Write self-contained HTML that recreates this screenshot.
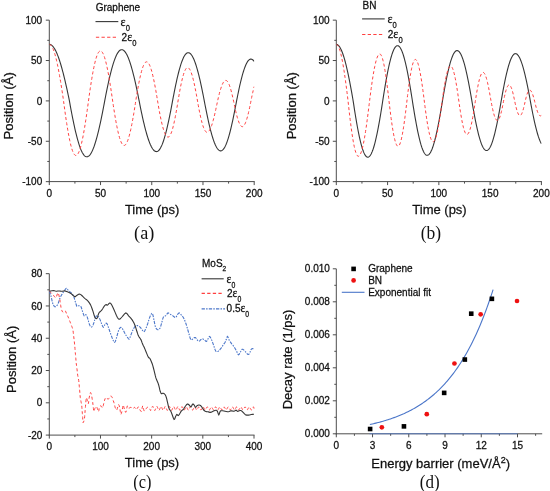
<!DOCTYPE html>
<html><head><meta charset="utf-8"><title>Figure</title>
<style>
html,body{margin:0;padding:0;background:#fff;}
body{width:550px;height:491px;overflow:hidden;font-family:"Liberation Sans", sans-serif;}
svg{display:block;will-change:transform;filter:blur(0.25px);}
text{fill:#111;stroke:#111;stroke-width:0.26px;}
</style></head><body>
<svg width="550" height="491" viewBox="0 0 550 491">
<defs><clipPath id="ca"><rect x="49.3" y="0" width="205" height="181"/></clipPath><clipPath id="cb"><rect x="336.3" y="0" width="205.2" height="181"/></clipPath></defs>
<rect width="550" height="491" fill="#fff"/>
<line x1="49.3" y1="20.2" x2="49.3" y2="182.1" stroke="#4d4d4d" stroke-width="1" />
<line x1="48.8" y1="181.6" x2="254.7" y2="181.6" stroke="#4d4d4d" stroke-width="1" />
<line x1="45.8" y1="181.65" x2="49.3" y2="181.65" stroke="#4d4d4d" stroke-width="1" />
<line x1="45.8" y1="141.28" x2="49.3" y2="141.28" stroke="#4d4d4d" stroke-width="1" />
<line x1="45.8" y1="100.9" x2="49.3" y2="100.9" stroke="#4d4d4d" stroke-width="1" />
<line x1="45.8" y1="60.53" x2="49.3" y2="60.53" stroke="#4d4d4d" stroke-width="1" />
<line x1="45.8" y1="20.15" x2="49.3" y2="20.15" stroke="#4d4d4d" stroke-width="1" />
<line x1="47.3" y1="161.46" x2="49.3" y2="161.46" stroke="#4d4d4d" stroke-width="1" />
<line x1="47.3" y1="121.09" x2="49.3" y2="121.09" stroke="#4d4d4d" stroke-width="1" />
<line x1="47.3" y1="80.71" x2="49.3" y2="80.71" stroke="#4d4d4d" stroke-width="1" />
<line x1="47.3" y1="40.34" x2="49.3" y2="40.34" stroke="#4d4d4d" stroke-width="1" />
<line x1="49.3" y1="181.6" x2="49.3" y2="185.1" stroke="#4d4d4d" stroke-width="1" />
<line x1="100.53" y1="181.6" x2="100.53" y2="185.1" stroke="#4d4d4d" stroke-width="1" />
<line x1="151.75" y1="181.6" x2="151.75" y2="185.1" stroke="#4d4d4d" stroke-width="1" />
<line x1="202.97" y1="181.6" x2="202.97" y2="185.1" stroke="#4d4d4d" stroke-width="1" />
<line x1="254.2" y1="181.6" x2="254.2" y2="185.1" stroke="#4d4d4d" stroke-width="1" />
<line x1="74.91" y1="181.6" x2="74.91" y2="183.6" stroke="#4d4d4d" stroke-width="1" />
<line x1="126.14" y1="181.6" x2="126.14" y2="183.6" stroke="#4d4d4d" stroke-width="1" />
<line x1="177.36" y1="181.6" x2="177.36" y2="183.6" stroke="#4d4d4d" stroke-width="1" />
<line x1="228.59" y1="181.6" x2="228.59" y2="183.6" stroke="#4d4d4d" stroke-width="1" />
<text x="42.2" y="185.25" font-size="10" text-anchor="end" font-family='"Liberation Sans", sans-serif' >-100</text>
<text x="42.2" y="144.88" font-size="10" text-anchor="end" font-family='"Liberation Sans", sans-serif' >-50</text>
<text x="42.2" y="104.5" font-size="10" text-anchor="end" font-family='"Liberation Sans", sans-serif' >0</text>
<text x="42.2" y="64.12" font-size="10" text-anchor="end" font-family='"Liberation Sans", sans-serif' >50</text>
<text x="42.2" y="23.75" font-size="10" text-anchor="end" font-family='"Liberation Sans", sans-serif' >100</text>
<text x="49.3" y="196.8" font-size="10" text-anchor="middle" font-family='"Liberation Sans", sans-serif' >0</text>
<text x="100.53" y="196.8" font-size="10" text-anchor="middle" font-family='"Liberation Sans", sans-serif' >50</text>
<text x="151.75" y="196.8" font-size="10" text-anchor="middle" font-family='"Liberation Sans", sans-serif' >100</text>
<text x="202.97" y="196.8" font-size="10" text-anchor="middle" font-family='"Liberation Sans", sans-serif' >150</text>
<text x="254.2" y="196.8" font-size="10" text-anchor="middle" font-family='"Liberation Sans", sans-serif' >200</text>
<line x1="336.3" y1="20.2" x2="336.3" y2="182.1" stroke="#4d4d4d" stroke-width="1" />
<line x1="335.8" y1="181.6" x2="541.9" y2="181.6" stroke="#4d4d4d" stroke-width="1" />
<line x1="332.8" y1="181.65" x2="336.3" y2="181.65" stroke="#4d4d4d" stroke-width="1" />
<line x1="332.8" y1="141.28" x2="336.3" y2="141.28" stroke="#4d4d4d" stroke-width="1" />
<line x1="332.8" y1="100.9" x2="336.3" y2="100.9" stroke="#4d4d4d" stroke-width="1" />
<line x1="332.8" y1="60.53" x2="336.3" y2="60.53" stroke="#4d4d4d" stroke-width="1" />
<line x1="332.8" y1="20.15" x2="336.3" y2="20.15" stroke="#4d4d4d" stroke-width="1" />
<line x1="334.3" y1="161.46" x2="336.3" y2="161.46" stroke="#4d4d4d" stroke-width="1" />
<line x1="334.3" y1="121.09" x2="336.3" y2="121.09" stroke="#4d4d4d" stroke-width="1" />
<line x1="334.3" y1="80.71" x2="336.3" y2="80.71" stroke="#4d4d4d" stroke-width="1" />
<line x1="334.3" y1="40.34" x2="336.3" y2="40.34" stroke="#4d4d4d" stroke-width="1" />
<line x1="336.3" y1="181.6" x2="336.3" y2="185.1" stroke="#4d4d4d" stroke-width="1" />
<line x1="387.58" y1="181.6" x2="387.58" y2="185.1" stroke="#4d4d4d" stroke-width="1" />
<line x1="438.85" y1="181.6" x2="438.85" y2="185.1" stroke="#4d4d4d" stroke-width="1" />
<line x1="490.12" y1="181.6" x2="490.12" y2="185.1" stroke="#4d4d4d" stroke-width="1" />
<line x1="541.4" y1="181.6" x2="541.4" y2="185.1" stroke="#4d4d4d" stroke-width="1" />
<line x1="361.94" y1="181.6" x2="361.94" y2="183.6" stroke="#4d4d4d" stroke-width="1" />
<line x1="413.21" y1="181.6" x2="413.21" y2="183.6" stroke="#4d4d4d" stroke-width="1" />
<line x1="464.49" y1="181.6" x2="464.49" y2="183.6" stroke="#4d4d4d" stroke-width="1" />
<line x1="515.76" y1="181.6" x2="515.76" y2="183.6" stroke="#4d4d4d" stroke-width="1" />
<text x="329.6" y="185.25" font-size="10" text-anchor="end" font-family='"Liberation Sans", sans-serif' >-100</text>
<text x="329.6" y="144.88" font-size="10" text-anchor="end" font-family='"Liberation Sans", sans-serif' >-50</text>
<text x="329.6" y="104.5" font-size="10" text-anchor="end" font-family='"Liberation Sans", sans-serif' >0</text>
<text x="329.6" y="64.12" font-size="10" text-anchor="end" font-family='"Liberation Sans", sans-serif' >50</text>
<text x="329.6" y="23.75" font-size="10" text-anchor="end" font-family='"Liberation Sans", sans-serif' >100</text>
<text x="336.3" y="196.8" font-size="10" text-anchor="middle" font-family='"Liberation Sans", sans-serif' >0</text>
<text x="387.58" y="196.8" font-size="10" text-anchor="middle" font-family='"Liberation Sans", sans-serif' >50</text>
<text x="438.85" y="196.8" font-size="10" text-anchor="middle" font-family='"Liberation Sans", sans-serif' >100</text>
<text x="490.12" y="196.8" font-size="10" text-anchor="middle" font-family='"Liberation Sans", sans-serif' >150</text>
<text x="541.4" y="196.8" font-size="10" text-anchor="middle" font-family='"Liberation Sans", sans-serif' >200</text>
<line x1="49.3" y1="273.7" x2="49.3" y2="435.6" stroke="#4d4d4d" stroke-width="1" />
<line x1="48.8" y1="435.1" x2="254.5" y2="435.1" stroke="#4d4d4d" stroke-width="1" />
<line x1="45.8" y1="435.08" x2="49.3" y2="435.08" stroke="#4d4d4d" stroke-width="1" />
<line x1="45.8" y1="402.8" x2="49.3" y2="402.8" stroke="#4d4d4d" stroke-width="1" />
<line x1="45.8" y1="370.52" x2="49.3" y2="370.52" stroke="#4d4d4d" stroke-width="1" />
<line x1="45.8" y1="338.24" x2="49.3" y2="338.24" stroke="#4d4d4d" stroke-width="1" />
<line x1="45.8" y1="305.96" x2="49.3" y2="305.96" stroke="#4d4d4d" stroke-width="1" />
<line x1="45.8" y1="273.68" x2="49.3" y2="273.68" stroke="#4d4d4d" stroke-width="1" />
<line x1="47.3" y1="418.94" x2="49.3" y2="418.94" stroke="#4d4d4d" stroke-width="1" />
<line x1="47.3" y1="386.66" x2="49.3" y2="386.66" stroke="#4d4d4d" stroke-width="1" />
<line x1="47.3" y1="354.38" x2="49.3" y2="354.38" stroke="#4d4d4d" stroke-width="1" />
<line x1="47.3" y1="322.1" x2="49.3" y2="322.1" stroke="#4d4d4d" stroke-width="1" />
<line x1="47.3" y1="289.82" x2="49.3" y2="289.82" stroke="#4d4d4d" stroke-width="1" />
<line x1="49.3" y1="435.1" x2="49.3" y2="438.6" stroke="#4d4d4d" stroke-width="1" />
<line x1="100.47" y1="435.1" x2="100.47" y2="438.6" stroke="#4d4d4d" stroke-width="1" />
<line x1="151.65" y1="435.1" x2="151.65" y2="438.6" stroke="#4d4d4d" stroke-width="1" />
<line x1="202.82" y1="435.1" x2="202.82" y2="438.6" stroke="#4d4d4d" stroke-width="1" />
<line x1="254" y1="435.1" x2="254" y2="438.6" stroke="#4d4d4d" stroke-width="1" />
<line x1="74.89" y1="435.1" x2="74.89" y2="437.1" stroke="#4d4d4d" stroke-width="1" />
<line x1="126.06" y1="435.1" x2="126.06" y2="437.1" stroke="#4d4d4d" stroke-width="1" />
<line x1="177.24" y1="435.1" x2="177.24" y2="437.1" stroke="#4d4d4d" stroke-width="1" />
<line x1="228.41" y1="435.1" x2="228.41" y2="437.1" stroke="#4d4d4d" stroke-width="1" />
<text x="42.4" y="438.68" font-size="10" text-anchor="end" font-family='"Liberation Sans", sans-serif' >-20</text>
<text x="42.4" y="406.4" font-size="10" text-anchor="end" font-family='"Liberation Sans", sans-serif' >0</text>
<text x="42.4" y="374.12" font-size="10" text-anchor="end" font-family='"Liberation Sans", sans-serif' >20</text>
<text x="42.4" y="341.84" font-size="10" text-anchor="end" font-family='"Liberation Sans", sans-serif' >40</text>
<text x="42.4" y="309.56" font-size="10" text-anchor="end" font-family='"Liberation Sans", sans-serif' >60</text>
<text x="42.4" y="277.28" font-size="10" text-anchor="end" font-family='"Liberation Sans", sans-serif' >80</text>
<text x="49.3" y="450.2" font-size="10" text-anchor="middle" font-family='"Liberation Sans", sans-serif' >0</text>
<text x="100.47" y="450.2" font-size="10" text-anchor="middle" font-family='"Liberation Sans", sans-serif' >100</text>
<text x="151.65" y="450.2" font-size="10" text-anchor="middle" font-family='"Liberation Sans", sans-serif' >200</text>
<text x="202.82" y="450.2" font-size="10" text-anchor="middle" font-family='"Liberation Sans", sans-serif' >300</text>
<text x="254" y="450.2" font-size="10" text-anchor="middle" font-family='"Liberation Sans", sans-serif' >400</text>
<line x1="336.3" y1="268.8" x2="336.3" y2="434.3" stroke="#4d4d4d" stroke-width="1" />
<line x1="335.8" y1="433.8" x2="542.2" y2="433.8" stroke="#4d4d4d" stroke-width="1" />
<line x1="332.8" y1="433.8" x2="336.3" y2="433.8" stroke="#4d4d4d" stroke-width="1" />
<line x1="332.8" y1="400.8" x2="336.3" y2="400.8" stroke="#4d4d4d" stroke-width="1" />
<line x1="332.8" y1="367.8" x2="336.3" y2="367.8" stroke="#4d4d4d" stroke-width="1" />
<line x1="332.8" y1="334.8" x2="336.3" y2="334.8" stroke="#4d4d4d" stroke-width="1" />
<line x1="332.8" y1="301.8" x2="336.3" y2="301.8" stroke="#4d4d4d" stroke-width="1" />
<line x1="332.8" y1="268.8" x2="336.3" y2="268.8" stroke="#4d4d4d" stroke-width="1" />
<line x1="334.3" y1="417.3" x2="336.3" y2="417.3" stroke="#4d4d4d" stroke-width="1" />
<line x1="334.3" y1="384.3" x2="336.3" y2="384.3" stroke="#4d4d4d" stroke-width="1" />
<line x1="334.3" y1="351.3" x2="336.3" y2="351.3" stroke="#4d4d4d" stroke-width="1" />
<line x1="334.3" y1="318.3" x2="336.3" y2="318.3" stroke="#4d4d4d" stroke-width="1" />
<line x1="334.3" y1="285.3" x2="336.3" y2="285.3" stroke="#4d4d4d" stroke-width="1" />
<line x1="336.3" y1="433.8" x2="336.3" y2="437.3" stroke="#4d4d4d" stroke-width="1" />
<line x1="372.54" y1="433.8" x2="372.54" y2="437.3" stroke="#4d4d4d" stroke-width="1" />
<line x1="408.78" y1="433.8" x2="408.78" y2="437.3" stroke="#4d4d4d" stroke-width="1" />
<line x1="445.02" y1="433.8" x2="445.02" y2="437.3" stroke="#4d4d4d" stroke-width="1" />
<line x1="481.26" y1="433.8" x2="481.26" y2="437.3" stroke="#4d4d4d" stroke-width="1" />
<line x1="517.5" y1="433.8" x2="517.5" y2="437.3" stroke="#4d4d4d" stroke-width="1" />
<line x1="354.42" y1="433.8" x2="354.42" y2="435.8" stroke="#4d4d4d" stroke-width="1" />
<line x1="390.66" y1="433.8" x2="390.66" y2="435.8" stroke="#4d4d4d" stroke-width="1" />
<line x1="426.9" y1="433.8" x2="426.9" y2="435.8" stroke="#4d4d4d" stroke-width="1" />
<line x1="463.14" y1="433.8" x2="463.14" y2="435.8" stroke="#4d4d4d" stroke-width="1" />
<line x1="499.38" y1="433.8" x2="499.38" y2="435.8" stroke="#4d4d4d" stroke-width="1" />
<line x1="535.62" y1="433.8" x2="535.62" y2="435.8" stroke="#4d4d4d" stroke-width="1" />
<text x="329.9" y="437.4" font-size="10" text-anchor="end" font-family='"Liberation Sans", sans-serif' >0.000</text>
<text x="329.9" y="404.4" font-size="10" text-anchor="end" font-family='"Liberation Sans", sans-serif' >0.002</text>
<text x="329.9" y="371.4" font-size="10" text-anchor="end" font-family='"Liberation Sans", sans-serif' >0.004</text>
<text x="329.9" y="338.4" font-size="10" text-anchor="end" font-family='"Liberation Sans", sans-serif' >0.006</text>
<text x="329.9" y="305.4" font-size="10" text-anchor="end" font-family='"Liberation Sans", sans-serif' >0.008</text>
<text x="329.9" y="272.4" font-size="10" text-anchor="end" font-family='"Liberation Sans", sans-serif' >0.010</text>
<text x="336.3" y="448.8" font-size="10" text-anchor="middle" font-family='"Liberation Sans", sans-serif' >0</text>
<text x="372.54" y="448.8" font-size="10" text-anchor="middle" font-family='"Liberation Sans", sans-serif' >3</text>
<text x="408.78" y="448.8" font-size="10" text-anchor="middle" font-family='"Liberation Sans", sans-serif' >6</text>
<text x="445.02" y="448.8" font-size="10" text-anchor="middle" font-family='"Liberation Sans", sans-serif' >9</text>
<text x="481.26" y="448.8" font-size="10" text-anchor="middle" font-family='"Liberation Sans", sans-serif' >12</text>
<text x="517.5" y="448.8" font-size="10" text-anchor="middle" font-family='"Liberation Sans", sans-serif' >15</text>
<text x="95.7" y="10.7" font-size="10" text-anchor="start" font-family='"Liberation Sans", sans-serif' >Graphene</text>
<line x1="95.5" y1="21.6" x2="118.3" y2="21.6" stroke="#363636" stroke-width="1.1" />
<text x="120.6" y="25.5" font-size="10" font-family='"Liberation Sans", sans-serif'><tspan font-family='"Liberation Serif", serif' font-size="12">&#949;</tspan><tspan font-size="9" dy="5.7" textLength="4.23" lengthAdjust="spacingAndGlyphs">0</tspan></text>
<line x1="95.9" y1="37.3" x2="117.5" y2="37.3" stroke="#ff4040" stroke-width="1.1" stroke-dasharray="3.3 2.3"/>
<text x="121.6" y="40.7" font-size="10" font-family='"Liberation Sans", sans-serif'>2<tspan font-family='"Liberation Serif", serif' font-size="12">&#949;</tspan><tspan font-size="9" dy="5.7" textLength="4.23" lengthAdjust="spacingAndGlyphs">0</tspan></text>
<text x="362.6" y="8.7" font-size="10" text-anchor="start" font-family='"Liberation Sans", sans-serif' >BN</text>
<line x1="362.1" y1="18.9" x2="384.7" y2="18.9" stroke="#363636" stroke-width="1.1" />
<text x="387.5" y="22.5" font-size="10" font-family='"Liberation Sans", sans-serif'><tspan font-family='"Liberation Serif", serif' font-size="12">&#949;</tspan><tspan font-size="9" dy="5.7" textLength="4.23" lengthAdjust="spacingAndGlyphs">0</tspan></text>
<line x1="362.1" y1="34.5" x2="383.5" y2="34.5" stroke="#ff4040" stroke-width="1.1" stroke-dasharray="3.3 2.3"/>
<text x="387.8" y="37.7" font-size="10" font-family='"Liberation Sans", sans-serif'>2<tspan font-family='"Liberation Serif", serif' font-size="12">&#949;</tspan><tspan font-size="9" dy="5.7" textLength="4.23" lengthAdjust="spacingAndGlyphs">0</tspan></text>
<text x="202.0" y="266.8" font-size="10" font-family='"Liberation Sans", sans-serif'>MoS<tspan font-size="6.5" dy="4">2</tspan></text>
<line x1="201.6" y1="278.8" x2="223.7" y2="278.8" stroke="#363636" stroke-width="1.1" />
<text x="226.6" y="282.7" font-size="10" font-family='"Liberation Sans", sans-serif'><tspan font-family='"Liberation Serif", serif' font-size="11.5">&#949;</tspan><tspan font-size="8.2" dy="5.4" textLength="3.85" lengthAdjust="spacingAndGlyphs">0</tspan></text>
<line x1="201.6" y1="293.4" x2="222.5" y2="293.4" stroke="#ff4040" stroke-width="1.1" stroke-dasharray="3.3 2.3"/>
<text x="227" y="296.6" font-size="10" font-family='"Liberation Sans", sans-serif'>2<tspan font-family='"Liberation Serif", serif' font-size="11.5">&#949;</tspan><tspan font-size="8.2" dy="5.4" textLength="3.85" lengthAdjust="spacingAndGlyphs">0</tspan></text>
<line x1="201.6" y1="308.9" x2="225" y2="308.9" stroke="#4b76c9" stroke-width="1.1" stroke-dasharray="3.3 1.2 1.5 1.2"/>
<text x="226.6" y="312" font-size="10" font-family='"Liberation Sans", sans-serif'>0.5<tspan font-family='"Liberation Serif", serif' font-size="11.5">&#949;</tspan><tspan font-size="8.2" dy="5.4" textLength="3.85" lengthAdjust="spacingAndGlyphs">0</tspan></text>
<line x1="341.8" y1="292.3" x2="364.5" y2="292.3" stroke="#4b76c9" stroke-width="1.1" />
<text x="368.2" y="272.3" font-size="10" text-anchor="start" font-family='"Liberation Sans", sans-serif' >Graphene</text>
<text x="368.2" y="283.6" font-size="10" text-anchor="start" font-family='"Liberation Sans", sans-serif' >BN</text>
<text x="368.2" y="296.3" font-size="10" text-anchor="start" font-family='"Liberation Sans", sans-serif' >Exponential fit</text>
<text x="152.1" y="214" font-size="13" text-anchor="middle" font-family='"Liberation Sans", sans-serif' >Time (ps)</text>
<text x="439.5" y="214" font-size="13" text-anchor="middle" font-family='"Liberation Sans", sans-serif' >Time (ps)</text>
<text x="152" y="467.3" font-size="13" text-anchor="middle" font-family='"Liberation Sans", sans-serif' >Time (ps)</text>
<text x="371.3" y="468.3" font-size="13" font-family='"Liberation Sans", sans-serif'>Energy barrier (meV/&#197;<tspan font-size="9" dy="-5.5">2</tspan><tspan dy="5.5">)</tspan></text>
<text x="0" y="0" font-size="13" font-family='"Liberation Sans", sans-serif' transform="translate(12.7 139.4) rotate(-90)">Position (&#197;)</text>
<text x="0" y="0" font-size="13" font-family='"Liberation Sans", sans-serif' transform="translate(296.2 139.3) rotate(-90)">Position (&#197;)</text>
<text x="0" y="0" font-size="13" font-family='"Liberation Sans", sans-serif' transform="translate(16.3 392.9) rotate(-90)">Position (&#197;)</text>
<text x="0" y="0" font-size="13" font-family='"Liberation Sans", sans-serif' transform="translate(292.3 409.3) rotate(-90)">Decay rate (1/ps)</text>
<text x="144.2" y="238.5" font-size="18" text-anchor="middle" font-family='"Liberation Serif", serif' style="stroke:none" textLength="20.2" lengthAdjust="spacingAndGlyphs">(a)</text>
<text x="430.9" y="238.8" font-size="18" text-anchor="middle" font-family='"Liberation Serif", serif' style="stroke:none" textLength="20.4" lengthAdjust="spacingAndGlyphs">(b)</text>
<text x="142.3" y="488" font-size="18" text-anchor="middle" font-family='"Liberation Serif", serif' style="stroke:none" textLength="18.1" lengthAdjust="spacingAndGlyphs">(c)</text>
<text x="429.8" y="487.5" font-size="18" text-anchor="middle" font-family='"Liberation Serif", serif' style="stroke:none" textLength="19.9" lengthAdjust="spacingAndGlyphs">(d)</text>
<g clip-path="url(#ca)"><path d="M49.3 44.38 L49.81 44.42 L50.32 44.54 L50.84 44.75 L51.35 45.04 L51.86 45.42 L52.37 45.87 L52.89 46.41 L53.4 47.03 L53.91 47.74 L54.42 48.52 L54.93 49.38 L55.45 50.32 L55.96 51.33 L56.47 52.43 L56.98 53.59 L57.5 54.84 L58.01 56.15 L58.52 57.54 L59.03 58.99 L59.54 60.52 L60.06 62.11 L60.57 63.77 L61.08 65.49 L61.59 67.27 L62.11 69.12 L62.62 71.02 L63.13 72.98 L63.64 74.99 L64.16 77.06 L64.67 79.17 L65.18 81.34 L65.69 83.55 L66.2 85.81 L66.72 88.11 L67.23 90.45 L67.74 92.83 L68.25 95.24 L68.77 97.69 L69.28 100.17 L69.79 102.97 L70.3 105.8 L70.81 108.57 L71.33 111.3 L71.84 113.98 L72.35 116.6 L72.86 119.17 L73.38 121.67 L73.89 124.11 L74.4 126.48 L74.91 128.79 L75.42 131.01 L75.94 133.17 L76.45 135.24 L76.96 137.23 L77.47 139.14 L77.99 140.96 L78.5 142.69 L79.01 144.33 L79.52 145.88 L80.03 147.33 L80.55 148.69 L81.06 149.94 L81.57 151.09 L82.08 152.14 L82.6 153.09 L83.11 153.93 L83.62 154.66 L84.13 155.29 L84.65 155.81 L85.16 156.21 L85.67 156.51 L86.18 156.7 L86.69 156.78 L87.21 156.75 L87.72 156.61 L88.23 156.37 L88.74 156.02 L89.26 155.57 L89.77 155.02 L90.28 154.36 L90.79 153.61 L91.3 152.75 L91.82 151.79 L92.33 150.74 L92.84 149.58 L93.35 148.34 L93.87 147 L94.38 145.56 L94.89 144.04 L95.4 142.43 L95.91 140.74 L96.43 138.96 L96.94 137.1 L97.45 135.16 L97.96 133.15 L98.48 131.06 L98.99 128.9 L99.5 126.67 L100.01 124.38 L100.53 122.03 L101.04 119.62 L101.55 117.15 L102.06 114.62 L102.57 112.05 L103.09 109.43 L103.6 106.77 L104.11 104.06 L104.62 101.34 L105.14 98.65 L105.65 96 L106.16 93.4 L106.67 90.84 L107.18 88.34 L107.7 85.9 L108.21 83.51 L108.72 81.18 L109.23 78.91 L109.75 76.71 L110.26 74.58 L110.77 72.52 L111.28 70.54 L111.79 68.63 L112.31 66.8 L112.82 65.06 L113.33 63.4 L113.84 61.82 L114.36 60.33 L114.87 58.94 L115.38 57.64 L115.89 56.43 L116.4 55.31 L116.92 54.3 L117.43 53.38 L117.94 52.56 L118.45 51.84 L118.97 51.23 L119.48 50.72 L119.99 50.31 L120.5 50.01 L121.02 49.81 L121.53 49.71 L122.04 49.72 L122.55 49.83 L123.06 50.05 L123.58 50.36 L124.09 50.77 L124.6 51.28 L125.11 51.9 L125.63 52.61 L126.14 53.41 L126.65 54.31 L127.16 55.31 L127.67 56.4 L128.19 57.58 L128.7 58.86 L129.21 60.22 L129.72 61.67 L130.24 63.2 L130.75 64.81 L131.26 66.51 L131.77 68.28 L132.28 70.13 L132.8 72.05 L133.31 74.05 L133.82 76.11 L134.33 78.24 L134.85 80.43 L135.36 82.68 L135.87 84.99 L136.38 87.35 L136.89 89.76 L137.41 92.23 L137.92 94.73 L138.43 97.28 L138.94 99.87 L139.46 102.48 L139.97 105.06 L140.48 107.59 L140.99 110.08 L141.5 112.52 L142.02 114.92 L142.53 117.26 L143.04 119.54 L143.55 121.77 L144.07 123.94 L144.58 126.04 L145.09 128.07 L145.6 130.04 L146.12 131.93 L146.63 133.75 L147.14 135.49 L147.65 137.16 L148.16 138.74 L148.68 140.24 L149.19 141.65 L149.7 142.98 L150.21 144.22 L150.73 145.36 L151.24 146.41 L151.75 147.37 L152.26 148.24 L152.77 149.01 L153.29 149.68 L153.8 150.25 L154.31 150.72 L154.82 151.09 L155.34 151.37 L155.85 151.54 L156.36 151.61 L156.87 151.57 L157.38 151.42 L157.9 151.15 L158.41 150.77 L158.92 150.26 L159.43 149.65 L159.95 148.91 L160.46 148.07 L160.97 147.12 L161.48 146.05 L162 144.88 L162.51 143.6 L163.02 142.21 L163.53 140.73 L164.04 139.14 L164.56 137.46 L165.07 135.68 L165.58 133.81 L166.09 131.86 L166.61 129.82 L167.12 127.69 L167.63 125.49 L168.14 123.21 L168.65 120.86 L169.17 118.44 L169.68 115.96 L170.19 113.42 L170.7 110.82 L171.22 108.16 L171.73 105.46 L172.24 102.71 L172.75 99.94 L173.26 97.22 L173.78 94.54 L174.29 91.92 L174.8 89.35 L175.31 86.84 L175.83 84.4 L176.34 82.02 L176.85 79.72 L177.36 77.48 L177.87 75.33 L178.39 73.25 L178.9 71.26 L179.41 69.36 L179.92 67.54 L180.44 65.82 L180.95 64.2 L181.46 62.67 L181.97 61.25 L182.49 59.93 L183 58.71 L183.51 57.6 L184.02 56.6 L184.53 55.71 L185.05 54.94 L185.56 54.27 L186.07 53.72 L186.58 53.29 L187.1 52.98 L187.61 52.78 L188.12 52.69 L188.63 52.73 L189.14 52.87 L189.66 53.13 L190.17 53.5 L190.68 53.97 L191.19 54.56 L191.71 55.25 L192.22 56.05 L192.73 56.96 L193.24 57.97 L193.75 59.09 L194.27 60.31 L194.78 61.62 L195.29 63.04 L195.8 64.55 L196.32 66.15 L196.83 67.84 L197.34 69.62 L197.85 71.48 L198.36 73.43 L198.88 75.46 L199.39 77.56 L199.9 79.73 L200.41 81.98 L200.93 84.29 L201.44 86.67 L201.95 89.1 L202.46 91.6 L202.97 94.14 L203.49 96.74 L204 99.38 L204.51 102.06 L205.02 104.73 L205.54 107.36 L206.05 109.95 L206.56 112.48 L207.07 114.96 L207.59 117.39 L208.1 119.75 L208.61 122.05 L209.12 124.28 L209.63 126.44 L210.15 128.53 L210.66 130.54 L211.17 132.47 L211.68 134.32 L212.2 136.08 L212.71 137.76 L213.22 139.34 L213.73 140.83 L214.24 142.22 L214.76 143.52 L215.27 144.72 L215.78 145.81 L216.29 146.8 L216.81 147.69 L217.32 148.47 L217.83 149.14 L218.34 149.71 L218.85 150.16 L219.37 150.51 L219.88 150.74 L220.39 150.86 L220.9 150.87 L221.42 150.77 L221.93 150.54 L222.44 150.19 L222.95 149.72 L223.46 149.14 L223.98 148.44 L224.49 147.62 L225 146.69 L225.51 145.64 L226.03 144.49 L226.54 143.22 L227.05 141.85 L227.56 140.38 L228.08 138.8 L228.59 137.13 L229.1 135.36 L229.61 133.5 L230.12 131.54 L230.64 129.51 L231.15 127.39 L231.66 125.19 L232.17 122.92 L232.69 120.58 L233.2 118.17 L233.71 115.69 L234.22 113.16 L234.73 110.57 L235.25 107.93 L235.76 105.25 L236.27 102.56 L236.78 99.91 L237.3 97.31 L237.81 94.76 L238.32 92.28 L238.83 89.86 L239.34 87.5 L239.86 85.21 L240.37 83 L240.88 80.86 L241.39 78.81 L241.91 76.84 L242.42 74.96 L242.93 73.18 L243.44 71.48 L243.95 69.89 L244.47 68.39 L244.98 67 L245.49 65.71 L246 64.54 L246.52 63.47 L247.03 62.52 L247.54 61.67 L248.05 60.95 L248.57 60.34 L249.08 59.85 L249.59 59.48 L250.1 59.23 L250.61 59.09 L251.13 59.08 L251.64 59.19 L252.15 59.41 L252.66 59.76 L253.18 60.22 L253.69 60.79 L254.2 61.48" fill="none" stroke="#363636" stroke-width="1.1"/><path d="M49.3 44.38 L49.81 44.46 L50.32 44.71 L50.84 45.12 L51.35 45.71 L51.86 46.45 L52.37 47.36 L52.89 48.43 L53.4 49.65 L53.91 51.04 L54.42 52.57 L54.93 54.25 L55.45 56.09 L55.96 58.06 L56.47 60.17 L56.98 62.42 L57.5 64.79 L58.01 67.29 L58.52 69.91 L59.03 72.65 L59.54 75.49 L60.06 78.44 L60.57 81.48 L61.08 84.62 L61.59 87.84 L62.11 91.15 L62.62 94.53 L63.13 97.97 L63.64 101.67 L64.16 105.55 L64.67 109.35 L65.18 113.06 L65.69 116.66 L66.2 120.14 L66.72 123.51 L67.23 126.74 L67.74 129.84 L68.25 132.79 L68.77 135.59 L69.28 138.23 L69.79 140.7 L70.3 143 L70.81 145.12 L71.33 147.05 L71.84 148.8 L72.35 150.35 L72.86 151.7 L73.38 152.85 L73.89 153.8 L74.4 154.53 L74.91 155.06 L75.42 155.38 L75.94 155.49 L76.45 155.38 L76.96 155.07 L77.47 154.55 L77.99 153.82 L78.5 152.89 L79.01 151.76 L79.52 150.43 L80.03 148.91 L80.55 147.19 L81.06 145.29 L81.57 143.21 L82.08 140.95 L82.6 138.53 L83.11 135.94 L83.62 133.2 L84.13 130.31 L84.65 127.28 L85.16 124.12 L85.67 120.83 L86.18 117.42 L86.69 113.91 L87.21 110.3 L87.72 106.6 L88.23 102.82 L88.74 99.05 L89.26 95.37 L89.77 91.78 L90.28 88.29 L90.79 84.91 L91.3 81.64 L91.82 78.51 L92.33 75.5 L92.84 72.64 L93.35 69.93 L93.87 67.38 L94.38 64.98 L94.89 62.76 L95.4 60.72 L95.91 58.85 L96.43 57.18 L96.94 55.69 L97.45 54.4 L97.96 53.31 L98.48 52.42 L98.99 51.73 L99.5 51.25 L100.01 50.98 L100.53 50.92 L101.04 51.06 L101.55 51.4 L102.06 51.95 L102.57 52.69 L103.09 53.63 L103.6 54.76 L104.11 56.09 L104.62 57.6 L105.14 59.29 L105.65 61.16 L106.16 63.2 L106.67 65.41 L107.18 67.77 L107.7 70.29 L108.21 72.95 L108.72 75.76 L109.23 78.69 L109.75 81.74 L110.26 84.91 L110.77 88.19 L111.28 91.56 L111.79 95.01 L112.31 98.55 L112.82 102.07 L113.33 105.51 L113.84 108.87 L114.36 112.12 L114.87 115.27 L115.38 118.3 L115.89 121.2 L116.4 123.98 L116.92 126.61 L117.43 129.1 L117.94 131.44 L118.45 133.61 L118.97 135.62 L119.48 137.45 L119.99 139.11 L120.5 140.58 L121.02 141.87 L121.53 142.96 L122.04 143.86 L122.55 144.57 L123.06 145.07 L123.58 145.37 L124.09 145.47 L124.6 145.38 L125.11 145.08 L125.63 144.59 L126.14 143.9 L126.65 143.03 L127.16 141.96 L127.67 140.71 L128.19 139.28 L128.7 137.67 L129.21 135.89 L129.72 133.94 L130.24 131.83 L130.75 129.57 L131.26 127.17 L131.77 124.63 L132.28 121.95 L132.8 119.16 L133.31 116.25 L133.82 113.23 L134.33 110.12 L134.85 106.92 L135.36 103.65 L135.87 100.37 L136.38 97.17 L136.89 94.06 L137.41 91.04 L137.92 88.13 L138.43 85.34 L138.94 82.66 L139.46 80.12 L139.97 77.72 L140.48 75.46 L140.99 73.35 L141.5 71.4 L142.02 69.62 L142.53 68.01 L143.04 66.58 L143.55 65.33 L144.07 64.26 L144.58 63.39 L145.09 62.7 L145.6 62.21 L146.12 61.92 L146.63 61.82 L147.14 61.92 L147.65 62.21 L148.16 62.7 L148.68 63.38 L149.19 64.25 L149.7 65.31 L150.21 66.56 L150.73 67.98 L151.24 69.58 L151.75 71.34 L152.26 73.27 L152.77 75.36 L153.29 77.59 L153.8 79.96 L154.31 82.46 L154.82 85.09 L155.34 87.83 L155.85 90.68 L156.36 93.62 L156.87 96.65 L157.38 99.76 L157.9 102.85 L158.41 105.87 L158.92 108.79 L159.43 111.62 L159.95 114.34 L160.46 116.94 L160.97 119.42 L161.48 121.76 L162 123.97 L162.51 126.02 L163.02 127.91 L163.53 129.65 L164.04 131.21 L164.56 132.6 L165.07 133.81 L165.58 134.83 L166.09 135.66 L166.61 136.31 L167.12 136.76 L167.63 137.01 L168.14 137.07 L168.65 136.92 L169.17 136.55 L169.68 135.97 L170.19 135.17 L170.7 134.17 L171.22 132.96 L171.73 131.56 L172.24 129.96 L172.75 128.17 L173.26 126.2 L173.78 124.07 L174.29 121.77 L174.8 119.33 L175.31 116.74 L175.83 114.01 L176.34 111.17 L176.85 108.22 L177.36 105.17 L177.87 102.04 L178.39 98.92 L178.9 95.89 L179.41 92.96 L179.92 90.14 L180.44 87.44 L180.95 84.88 L181.46 82.46 L181.97 80.2 L182.49 78.1 L183 76.17 L183.51 74.42 L184.02 72.85 L184.53 71.49 L185.05 70.32 L185.56 69.36 L186.07 68.6 L186.58 68.06 L187.1 67.74 L187.61 67.63 L188.12 67.73 L188.63 68.04 L189.14 68.55 L189.66 69.26 L190.17 70.16 L190.68 71.26 L191.19 72.55 L191.71 74.02 L192.22 75.66 L192.73 77.48 L193.24 79.45 L193.75 81.58 L194.27 83.86 L194.78 86.26 L195.29 88.8 L195.8 91.45 L196.32 94.2 L196.83 97.04 L197.34 99.97 L197.85 102.9 L198.36 105.75 L198.88 108.5 L199.39 111.15 L199.9 113.68 L200.41 116.09 L200.93 118.36 L201.44 120.49 L201.95 122.47 L202.46 124.28 L202.97 125.93 L203.49 127.4 L204 128.68 L204.51 129.78 L205.02 130.69 L205.54 131.4 L206.05 131.9 L206.56 132.21 L207.07 132.31 L207.59 132.22 L208.1 131.96 L208.61 131.52 L209.12 130.91 L209.63 130.12 L210.15 129.17 L210.66 128.06 L211.17 126.8 L211.68 125.38 L212.2 123.82 L212.71 122.12 L213.22 120.29 L213.73 118.34 L214.24 116.28 L214.76 114.11 L215.27 111.85 L215.78 109.51 L216.29 107.09 L216.81 104.64 L217.32 102.25 L217.83 99.93 L218.34 97.71 L218.85 95.59 L219.37 93.57 L219.88 91.67 L220.39 89.89 L220.9 88.24 L221.42 86.74 L221.93 85.38 L222.44 84.17 L222.95 83.13 L223.46 82.24 L223.98 81.53 L224.49 80.99 L225 80.62 L225.51 80.42 L226.03 80.41 L226.54 80.59 L227.05 80.97 L227.56 81.56 L228.08 82.34 L228.59 83.31 L229.1 84.47 L229.61 85.81 L230.12 87.31 L230.64 88.98 L231.15 90.8 L231.66 92.77 L232.17 94.86 L232.69 97.07 L233.2 99.38 L233.71 101.79 L234.22 104.27 L234.73 106.71 L235.25 109.07 L235.76 111.32 L236.27 113.46 L236.78 115.48 L237.3 117.35 L237.81 119.09 L238.32 120.66 L238.83 122.06 L239.34 123.29 L239.86 124.34 L240.37 125.2 L240.88 125.86 L241.39 126.33 L241.91 126.59 L242.42 126.66 L242.93 126.51 L243.44 126.16 L243.95 125.61 L244.47 124.85 L244.98 123.9 L245.49 122.76 L246 121.43 L246.52 119.93 L247.03 118.26 L247.54 116.43 L248.05 114.45 L248.57 112.33 L249.08 110.08 L249.59 107.73 L250.1 105.26 L250.61 102.71 L251.13 100.11 L251.64 97.57 L252.15 95.13 L252.66 92.79 L253.18 90.57 L253.69 88.48 L254.2 86.53" fill="none" stroke="#ff4040" stroke-width="1.0" stroke-dasharray="3 2.4"/></g>
<g clip-path="url(#cb)"><path d="M336.3 44.38 L336.81 44.43 L337.33 44.61 L337.84 44.91 L338.35 45.33 L338.86 45.86 L339.38 46.51 L339.89 47.28 L340.4 48.16 L340.91 49.15 L341.43 50.26 L341.94 51.48 L342.45 52.81 L342.97 54.24 L343.48 55.78 L343.99 57.42 L344.5 59.16 L345.02 61 L345.53 62.93 L346.04 64.96 L346.56 67.07 L347.07 69.27 L347.58 71.56 L348.09 73.92 L348.61 76.36 L349.12 78.88 L349.63 81.46 L350.14 84.12 L350.66 86.83 L351.17 89.61 L351.68 92.44 L352.2 95.32 L352.71 98.25 L353.22 101.3 L353.73 104.7 L354.25 108.05 L354.76 111.32 L355.27 114.52 L355.78 117.65 L356.3 120.69 L356.81 123.64 L357.32 126.5 L357.84 129.25 L358.35 131.9 L358.86 134.44 L359.37 136.87 L359.89 139.18 L360.4 141.37 L360.91 143.43 L361.42 145.35 L361.94 147.14 L362.45 148.8 L362.96 150.31 L363.48 151.68 L363.99 152.9 L364.5 153.97 L365.01 154.89 L365.53 155.66 L366.04 156.27 L366.55 156.73 L367.06 157.03 L367.58 157.17 L368.09 157.16 L368.6 156.99 L369.12 156.67 L369.63 156.21 L370.14 155.59 L370.65 154.82 L371.17 153.91 L371.68 152.86 L372.19 151.66 L372.71 150.32 L373.22 148.84 L373.73 147.22 L374.24 145.48 L374.76 143.6 L375.27 141.6 L375.78 139.48 L376.29 137.24 L376.81 134.88 L377.32 132.42 L377.83 129.85 L378.35 127.18 L378.86 124.41 L379.37 121.55 L379.88 118.6 L380.4 115.58 L380.91 112.47 L381.42 109.3 L381.93 106.06 L382.45 102.76 L382.96 99.42 L383.47 96.14 L383.99 92.91 L384.5 89.75 L385.01 86.66 L385.52 83.65 L386.04 80.72 L386.55 77.88 L387.06 75.13 L387.58 72.48 L388.09 69.93 L388.6 67.49 L389.11 65.15 L389.63 62.94 L390.14 60.84 L390.65 58.86 L391.16 57.01 L391.68 55.29 L392.19 53.7 L392.7 52.25 L393.22 50.94 L393.73 49.77 L394.24 48.74 L394.75 47.86 L395.27 47.13 L395.78 46.54 L396.29 46.1 L396.8 45.82 L397.32 45.68 L397.83 45.69 L398.34 45.86 L398.86 46.17 L399.37 46.64 L399.88 47.25 L400.39 48 L400.91 48.9 L401.42 49.95 L401.93 51.14 L402.44 52.46 L402.96 53.93 L403.47 55.53 L403.98 57.25 L404.5 59.11 L405.01 61.09 L405.52 63.19 L406.03 65.41 L406.55 67.74 L407.06 70.18 L407.57 72.72 L408.09 75.37 L408.6 78.1 L409.11 80.93 L409.62 83.84 L410.14 86.84 L410.65 89.9 L411.16 93.04 L411.67 96.24 L412.19 99.51 L412.7 102.8 L413.21 106.04 L413.73 109.21 L414.24 112.32 L414.75 115.36 L415.26 118.32 L415.78 121.2 L416.29 124 L416.8 126.7 L417.31 129.3 L417.83 131.8 L418.34 134.2 L418.85 136.48 L419.37 138.66 L419.88 140.71 L420.39 142.64 L420.9 144.45 L421.42 146.12 L421.93 147.67 L422.44 149.07 L422.95 150.35 L423.47 151.48 L423.98 152.47 L424.49 153.31 L425.01 154.01 L425.52 154.56 L426.03 154.96 L426.54 155.22 L427.06 155.32 L427.57 155.28 L428.08 155.1 L428.6 154.78 L429.11 154.32 L429.62 153.72 L430.13 152.98 L430.65 152.11 L431.16 151.11 L431.67 149.97 L432.18 148.7 L432.7 147.3 L433.21 145.78 L433.72 144.14 L434.24 142.38 L434.75 140.5 L435.26 138.51 L435.77 136.41 L436.29 134.21 L436.8 131.9 L437.31 129.49 L437.82 127 L438.34 124.41 L438.85 121.74 L439.36 118.99 L439.88 116.16 L440.39 113.27 L440.9 110.31 L441.41 107.28 L441.93 104.21 L442.44 101.09 L442.95 98.03 L443.46 95.01 L443.98 92.07 L444.49 89.18 L445 86.37 L445.52 83.64 L446.03 80.98 L446.54 78.41 L447.05 75.94 L447.57 73.55 L448.08 71.26 L448.59 69.08 L449.11 67 L449.62 65.03 L450.13 63.18 L450.64 61.44 L451.16 59.82 L451.67 58.32 L452.18 56.95 L452.69 55.71 L453.21 54.6 L453.72 53.62 L454.23 52.78 L454.75 52.07 L455.26 51.5 L455.77 51.07 L456.28 50.77 L456.8 50.62 L457.31 50.6 L457.82 50.73 L458.33 50.99 L458.85 51.39 L459.36 51.93 L459.87 52.6 L460.39 53.41 L460.9 54.35 L461.41 55.42 L461.92 56.62 L462.44 57.95 L462.95 59.4 L463.46 60.97 L463.97 62.66 L464.49 64.47 L465 66.39 L465.51 68.41 L466.03 70.54 L466.54 72.78 L467.05 75.1 L467.56 77.52 L468.08 80.03 L468.59 82.63 L469.1 85.3 L469.62 88.04 L470.13 90.86 L470.64 93.74 L471.15 96.67 L471.67 99.67 L472.18 102.69 L472.69 105.66 L473.2 108.58 L473.72 111.43 L474.23 114.22 L474.74 116.94 L475.26 119.58 L475.77 122.13 L476.28 124.61 L476.79 126.99 L477.31 129.28 L477.82 131.47 L478.33 133.56 L478.84 135.55 L479.36 137.42 L479.87 139.18 L480.38 140.83 L480.9 142.35 L481.41 143.75 L481.92 145.03 L482.43 146.18 L482.95 147.2 L483.46 148.08 L483.97 148.84 L484.48 149.46 L485 149.94 L485.51 150.28 L486.02 150.49 L486.54 150.56 L487.05 150.49 L487.56 150.28 L488.07 149.94 L488.59 149.45 L489.1 148.83 L489.61 148.08 L490.12 147.19 L490.64 146.16 L491.15 145.01 L491.66 143.73 L492.18 142.32 L492.69 140.8 L493.2 139.15 L493.71 137.38 L494.23 135.51 L494.74 133.52 L495.25 131.43 L495.77 129.24 L496.28 126.95 L496.79 124.56 L497.3 122.09 L497.82 119.54 L498.33 116.9 L498.84 114.19 L499.35 111.41 L499.87 108.57 L500.38 105.67 L500.89 102.71 L501.41 99.73 L501.92 96.81 L502.43 93.94 L502.94 91.13 L503.46 88.4 L503.97 85.73 L504.48 83.14 L504.99 80.64 L505.51 78.22 L506.02 75.89 L506.53 73.66 L507.05 71.52 L507.56 69.5 L508.07 67.58 L508.58 65.77 L509.1 64.07 L509.61 62.49 L510.12 61.04 L510.63 59.71 L511.15 58.51 L511.66 57.43 L512.17 56.49 L512.69 55.68 L513.2 55 L513.71 54.46 L514.22 54.06 L514.74 53.8 L515.25 53.67 L515.76 53.68 L516.28 53.83 L516.79 54.09 L517.3 54.49 L517.81 55.01 L518.33 55.66 L518.84 56.43 L519.35 57.33 L519.86 58.35 L520.38 59.48 L520.89 60.74 L521.4 62.1 L521.92 63.58 L522.43 65.17 L522.94 66.87 L523.45 68.67 L523.97 70.56 L524.48 72.56 L524.99 74.65 L525.5 76.82 L526.02 79.08 L526.53 81.43 L527.04 83.85 L527.56 86.34 L528.07 88.9 L528.58 91.52 L529.09 94.2 L529.61 96.94 L530.12 99.73 L530.63 102.54 L531.14 105.3 L531.66 108 L532.17 110.65 L532.68 113.24 L533.2 115.76 L533.71 118.2 L534.22 120.58 L534.73 122.87 L535.25 125.08 L535.76 127.21 L536.27 129.24 L536.79 131.18 L537.3 133.01 L537.81 134.75 L538.32 136.38 L538.84 137.91 L539.35 139.32 L539.86 140.62 L540.37 141.8 L540.89 142.87 L541.4 143.81" fill="none" stroke="#363636" stroke-width="1.1"/><path d="M336.3 44.38 L336.81 44.5 L337.33 44.87 L337.84 45.48 L338.35 46.33 L338.86 47.43 L339.38 48.76 L339.89 50.32 L340.4 52.11 L340.91 54.12 L341.43 56.35 L341.94 58.79 L342.45 61.43 L342.97 64.26 L343.48 67.28 L343.99 70.47 L344.5 73.84 L345.02 77.36 L345.53 81.03 L346.04 84.84 L346.56 88.77 L347.07 92.82 L347.58 96.98 L348.09 101.35 L348.61 106.09 L349.12 110.7 L349.63 115.17 L350.14 119.48 L350.66 123.62 L351.17 127.56 L351.68 131.3 L352.2 134.83 L352.71 138.12 L353.22 141.17 L353.73 143.97 L354.25 146.5 L354.76 148.76 L355.27 150.74 L355.78 152.42 L356.3 153.81 L356.81 154.89 L357.32 155.67 L357.84 156.14 L358.35 156.29 L358.86 156.16 L359.37 155.76 L359.89 155.1 L360.4 154.17 L360.91 152.98 L361.42 151.54 L361.94 149.85 L362.45 147.91 L362.96 145.74 L363.48 143.34 L363.99 140.72 L364.5 137.89 L365.01 134.86 L365.53 131.63 L366.04 128.23 L366.55 124.66 L367.06 120.93 L367.58 117.06 L368.09 113.06 L368.6 108.94 L369.12 104.71 L369.63 100.51 L370.14 96.41 L370.65 92.43 L371.17 88.59 L371.68 84.89 L372.19 81.35 L372.71 77.99 L373.22 74.8 L373.73 71.81 L374.24 69.02 L374.76 66.44 L375.27 64.08 L375.78 61.96 L376.29 60.07 L376.81 58.43 L377.32 57.04 L377.83 55.9 L378.35 55.03 L378.86 54.42 L379.37 54.07 L379.88 53.99 L380.4 54.22 L380.91 54.79 L381.42 55.68 L381.93 56.89 L382.45 58.42 L382.96 60.27 L383.47 62.41 L383.99 64.84 L384.5 67.55 L385.01 70.53 L385.52 73.75 L386.04 77.21 L386.55 80.89 L387.06 84.77 L387.58 88.84 L388.09 93.07 L388.6 97.44 L389.11 101.93 L389.63 106.33 L390.14 110.6 L390.65 114.7 L391.16 118.61 L391.68 122.34 L392.19 125.84 L392.7 129.11 L393.22 132.14 L393.73 134.91 L394.24 137.39 L394.75 139.6 L395.27 141.5 L395.78 143.09 L396.29 144.37 L396.8 145.33 L397.32 145.96 L397.83 146.25 L398.34 146.22 L398.86 145.84 L399.37 145.11 L399.88 144.05 L400.39 142.65 L400.91 140.93 L401.42 138.89 L401.93 136.54 L402.44 133.9 L402.96 130.98 L403.47 127.8 L403.98 124.38 L404.5 120.72 L405.01 116.86 L405.52 112.81 L406.03 108.59 L406.55 104.22 L407.06 99.78 L407.57 95.46 L408.09 91.31 L408.6 87.33 L409.11 83.55 L409.62 79.98 L410.14 76.65 L410.65 73.58 L411.16 70.77 L411.67 68.24 L412.19 66.02 L412.7 64.1 L413.21 62.51 L413.73 61.24 L414.24 60.31 L414.75 59.72 L415.26 59.48 L415.78 59.58 L416.29 59.98 L416.8 60.7 L417.31 61.72 L417.83 63.05 L418.34 64.67 L418.85 66.58 L419.37 68.76 L419.88 71.2 L420.39 73.9 L420.9 76.84 L421.42 80 L421.93 83.36 L422.44 86.92 L422.95 90.65 L423.47 94.54 L423.98 98.56 L424.49 102.68 L425.01 106.7 L425.52 110.59 L426.03 114.32 L426.54 117.87 L427.06 121.24 L427.57 124.4 L428.08 127.33 L428.6 130.03 L429.11 132.48 L429.62 134.66 L430.13 136.57 L430.65 138.19 L431.16 139.51 L431.67 140.53 L432.18 141.25 L432.7 141.66 L433.21 141.75 L433.72 141.54 L434.24 141.04 L434.75 140.24 L435.26 139.15 L435.77 137.77 L436.29 136.12 L436.8 134.2 L437.31 132.02 L437.82 129.6 L438.34 126.94 L438.85 124.06 L439.36 120.99 L439.88 117.72 L440.39 114.28 L440.9 110.69 L441.41 106.96 L441.93 103.11 L442.44 99.31 L442.95 95.63 L443.46 92.1 L443.98 88.73 L444.49 85.54 L445 82.54 L445.52 79.75 L446.03 77.18 L446.54 74.86 L447.05 72.78 L447.57 70.97 L448.08 69.42 L448.59 68.16 L449.11 67.18 L449.62 66.5 L450.13 66.11 L450.64 66.02 L451.16 66.24 L451.67 66.75 L452.18 67.57 L452.69 68.68 L453.21 70.08 L453.72 71.76 L454.23 73.71 L454.75 75.92 L455.26 78.37 L455.77 81.05 L456.28 83.94 L456.8 87.03 L457.31 90.3 L457.82 93.73 L458.33 97.31 L458.85 101 L459.36 104.65 L459.87 108.16 L460.39 111.53 L460.9 114.73 L461.41 117.75 L461.92 120.56 L462.44 123.15 L462.95 125.5 L463.46 127.61 L463.97 129.45 L464.49 131.02 L465 132.31 L465.51 133.3 L466.03 134 L466.54 134.39 L467.05 134.49 L467.56 134.29 L468.08 133.8 L468.59 133.03 L469.1 131.98 L469.62 130.66 L470.13 129.08 L470.64 127.25 L471.15 125.18 L471.67 122.88 L472.18 120.36 L472.69 117.65 L473.2 114.75 L473.72 111.7 L474.23 108.49 L474.74 105.15 L475.26 101.73 L475.77 98.4 L476.28 95.19 L476.79 92.13 L477.31 89.24 L477.82 86.52 L478.33 84.01 L478.84 81.71 L479.36 79.64 L479.87 77.8 L480.38 76.22 L480.9 74.9 L481.41 73.86 L481.92 73.09 L482.43 72.6 L482.95 72.4 L483.46 72.48 L483.97 72.85 L484.48 73.49 L485 74.4 L485.51 75.57 L486.02 77 L486.54 78.67 L487.05 80.57 L487.56 82.68 L488.07 85 L488.59 87.49 L489.1 90.14 L489.61 92.94 L490.12 95.86 L490.64 98.82 L491.15 101.67 L491.66 104.39 L492.18 106.95 L492.69 109.33 L493.2 111.53 L493.71 113.52 L494.23 115.28 L494.74 116.81 L495.25 118.08 L495.77 119.1 L496.28 119.85 L496.79 120.32 L497.3 120.52 L497.82 120.42 L498.33 120.02 L498.84 119.31 L499.35 118.3 L499.87 117.01 L500.38 115.44 L500.89 113.63 L501.41 111.59 L501.92 109.34 L502.43 106.91 L502.94 104.33 L503.46 101.64 L503.97 99.03 L504.48 96.56 L504.99 94.28 L505.51 92.19 L506.02 90.33 L506.53 88.72 L507.05 87.37 L507.56 86.3 L508.07 85.53 L508.58 85.07 L509.1 84.91 L509.61 85.07 L510.12 85.53 L510.63 86.3 L511.15 87.36 L511.66 88.7 L512.17 90.3 L512.69 92.13 L513.2 94.18 L513.71 96.41 L514.22 98.8 L514.74 101.3 L515.25 103.71 L515.76 105.98 L516.28 108.06 L516.79 109.94 L517.3 111.59 L517.81 112.98 L518.33 114.1 L518.84 114.93 L519.35 115.45 L519.86 115.67 L520.38 115.57 L520.89 115.16 L521.4 114.42 L521.92 113.39 L522.43 112.08 L522.94 110.5 L523.45 108.69 L523.97 106.68 L524.48 104.49 L524.99 102.18 L525.5 99.94 L526.02 97.85 L526.53 95.95 L527.04 94.28 L527.56 92.86 L528.07 91.71 L528.58 90.86 L529.09 90.31 L529.61 90.09 L530.12 90.17 L530.63 90.52 L531.14 91.13 L531.66 92.01 L532.17 93.12 L532.68 94.46 L533.2 96.01 L533.71 97.75 L534.22 99.65 L534.73 101.68 L535.25 103.81 L535.76 105.87 L536.27 107.8 L536.79 109.57 L537.3 111.16 L537.81 112.55 L538.32 113.71 L538.84 114.63 L539.35 115.3 L539.86 115.7 L540.37 115.84 L540.89 115.73 L541.4 115.41" fill="none" stroke="#ff4040" stroke-width="1.0" stroke-dasharray="3 2.4"/></g>
<path d="M49.5 291.2 L49.94 292.61 L50.58 294.64 L51.2 296.8 L51.71 299.07 L52.22 301.47 L52.8 303.5 L53.5 305.11 L54.27 306.35 L55.1 306.9 L56.04 306.51 L57.03 305.43 L57.9 304.1 L58.53 302.54 L59.04 300.73 L59.6 299 L60.25 297.51 L60.96 296.09 L61.8 294.6 L62.91 292.8 L64.16 290.93 L65.2 289.5 L65.86 288.71 L66.33 288.37 L66.8 288.4 L67.32 288.89 L67.85 289.74 L68.5 290.6 L69.37 291.32 L70.36 292.06 L71.3 292.9 L72.13 293.86 L72.9 294.93 L73.6 296.2 L74.18 297.77 L74.69 299.54 L75.2 301.3 L75.76 303.18 L76.33 305.04 L76.9 306.3 L77.45 306.5 L78 306.1 L78.6 305.8 L79.31 305.72 L80.09 305.76 L80.8 306.3 L81.4 307.69 L81.95 309.58 L82.5 311.4 L83.07 313.12 L83.63 314.77 L84.2 315.8 L84.77 315.67 L85.33 314.94 L85.9 314.7 L86.47 315.42 L87.04 316.64 L87.6 318.1 L88.14 319.89 L88.66 321.92 L89.2 323.7 L89.76 325.13 L90.33 326.31 L90.9 327 L91.47 327.09 L92.03 326.68 L92.6 325.9 L93.19 324.63 L93.78 322.98 L94.3 321.4 L94.69 319.98 L95 318.63 L95.4 317.5 L95.93 316.54 L96.54 315.81 L97.2 315.6 L97.93 316.08 L98.72 317.09 L99.5 318.4 L100.26 320.14 L101.01 322.2 L101.7 324 L102.3 325.51 L102.85 326.77 L103.4 327.3 L103.97 326.59 L104.53 325.14 L105.1 324 L105.67 323.43 L106.24 323.17 L106.8 323.4 L107.31 324.26 L107.82 325.63 L108.4 327.3 L109.12 329.37 L109.91 331.74 L110.7 334 L111.46 336.05 L112.21 337.98 L112.9 339.6 L113.5 340.99 L114.05 342.07 L114.6 342.4 L115.15 341.74 L115.7 340.34 L116.3 338.5 L116.99 336.03 L117.74 333.12 L118.5 330.7 L119.26 329.03 L120.04 327.85 L120.8 327.3 L121.54 327.57 L122.27 328.47 L123 329.6 L123.73 330.95 L124.46 332.53 L125.2 334 L125.98 335.27 L126.77 336.43 L127.5 337.4 L128.11 338.3 L128.66 339.01 L129.2 339.1 L129.71 338.28 L130.22 336.83 L130.8 335.2 L131.52 333.38 L132.31 331.37 L133.1 329.6 L133.84 328.2 L134.56 327.04 L135.3 326.2 L136.06 325.73 L136.84 325.56 L137.6 325.6 L138.34 325.81 L139.07 326.21 L139.8 326.8 L140.55 327.64 L141.3 328.65 L142 329.6 L142.6 330.54 L143.15 331.41 L143.7 331.8 L144.25 331.52 L144.8 330.75 L145.4 329.6 L146.11 328 L146.87 326.03 L147.6 324 L148.24 321.94 L148.86 319.83 L149.5 317.9 L150.25 316.07 L151.04 314.42 L151.7 313.4 L152.14 313.21 L152.47 313.66 L152.8 314.6 L153.18 316.08 L153.57 318.05 L154 320.2 L154.48 322.66 L155 325.3 L155.6 327.4 L156.32 328.68 L157.11 329.41 L157.9 329.7 L158.66 329.57 L159.41 329 L160.1 328 L160.7 326.42 L161.25 324.41 L161.8 322.4 L162.35 320.37 L162.9 318.33 L163.5 316.8 L164.19 316.16 L164.94 316.03 L165.7 315.7 L166.49 314.75 L167.28 313.61 L168 312.9 L168.56 312.98 L169.04 313.49 L169.6 314 L170.32 314.34 L171.11 314.69 L171.9 315.1 L172.66 315.66 L173.41 316.29 L174.1 316.8 L174.7 317.21 L175.25 317.49 L175.8 317.4 L176.37 316.68 L176.93 315.58 L177.5 314.6 L178.05 313.81 L178.6 313.14 L179.2 312.9 L179.9 313.32 L180.65 314.18 L181.4 315.1 L182.13 315.89 L182.86 316.74 L183.6 317.9 L184.38 319.56 L185.17 321.53 L185.9 323.5 L186.51 325.37 L187.06 327.23 L187.6 329.1 L188.14 330.99 L188.66 332.87 L189.2 334.7 L189.74 336.67 L190.29 338.59 L190.9 339.8 L191.63 339.86 L192.42 339.23 L193.2 338.6 L193.9 338.04 L194.59 337.49 L195.4 337.5 L196.43 338.67 L197.58 340.39 L198.7 341.4 L199.74 340.92 L200.75 339.73 L201.7 338.9 L202.57 338.86 L203.39 339.17 L204.2 339.6 L204.99 340.37 L205.77 341.26 L206.6 341.4 L207.53 339.97 L208.5 337.79 L209.4 336.5 L210.16 336.88 L210.85 338.14 L211.5 339.6 L212.1 341 L212.66 342.59 L213.3 344.4 L214.09 346.77 L214.95 349.36 L215.8 351.2 L216.6 351.8 L217.4 351.64 L218.2 351.2 L219.03 350.59 L219.87 349.71 L220.7 348.7 L221.5 347.59 L222.3 346.35 L223.1 345.1 L223.95 343.92 L224.81 342.73 L225.6 341.4 L226.25 339.54 L226.83 337.54 L227.4 336.5 L227.97 337.1 L228.55 338.66 L229.2 340.2 L229.99 341.43 L230.85 342.64 L231.7 343.8 L232.5 344.83 L233.3 345.8 L234.1 346.9 L234.95 348.27 L235.81 349.77 L236.6 351.2 L237.25 352.67 L237.83 354.07 L238.4 354.8 L239 354.47 L239.59 353.47 L240.2 352.4 L240.81 351.26 L241.43 350.03 L242.1 349.3 L242.84 349.32 L243.63 349.83 L244.5 350.6 L245.53 351.79 L246.64 353.23 L247.6 354.2 L248.3 354.45 L248.85 354.23 L249.4 353.6 L250 352.3 L250.59 350.6 L251.2 349.3 L251.86 348.78 L252.54 348.67 L253.1 348.7 L253.51 348.83 L253.8 349.1 L254 349.3" fill="none" stroke="#4b76c9" stroke-width="1.1" stroke-dasharray="3.3 1.2 1.5 1.2"/>
<path d="M49.5 291.2 L50.2 291.86 L51.19 292.79 L52.1 293.7 L52.79 294.5 L53.4 295.28 L54 296 L54.63 296.81 L55.25 297.56 L55.8 297.8 L56.25 297.19 L56.63 296.06 L57 295 L57.36 293.96 L57.71 292.98 L58.1 292.8 L58.56 293.91 L59.06 295.83 L59.5 297.8 L59.84 299.59 L60.12 301.44 L60.4 303.3 L60.68 305.25 L60.96 307.21 L61.3 308.9 L61.73 310.21 L62.22 311.25 L62.7 312 L63.14 312.43 L63.56 312.57 L64 312.5 L64.46 312 L64.93 311.29 L65.4 311.1 L65.87 311.87 L66.33 313.17 L66.8 314.4 L67.28 315.34 L67.76 316.22 L68.2 317.1 L68.57 318.03 L68.9 318.96 L69.2 319.8 L69.46 320.43 L69.7 320.96 L70 321.7 L70.44 322.85 L70.95 324.2 L71.4 325.4 L71.74 326.25 L72.03 326.95 L72.3 327.7 L72.55 328.49 L72.77 329.33 L73 330.5 L73.24 332.24 L73.47 334.31 L73.7 336.3 L73.91 338.05 L74.11 339.73 L74.3 341.4 L74.47 343.06 L74.64 344.73 L74.8 346.5 L74.97 348.48 L75.13 350.57 L75.3 352.6 L75.47 354.5 L75.63 356.35 L75.8 358.2 L75.96 360.08 L76.12 361.96 L76.3 363.8 L76.52 365.56 L76.76 367.29 L77 369.1 L77.22 371.11 L77.44 373.21 L77.7 375.2 L78.03 376.94 L78.39 378.56 L78.7 380.3 L78.93 382.28 L79.12 384.37 L79.3 386.4 L79.47 388.3 L79.64 390.15 L79.8 392 L79.96 393.93 L80.12 395.86 L80.3 397.6 L80.52 399.03 L80.76 400.26 L81 401.5 L81.24 402.72 L81.48 403.94 L81.7 405.4 L81.88 407.27 L82.04 409.39 L82.2 411.5 L82.37 413.57 L82.55 415.64 L82.7 417.6 L82.78 419.68 L82.83 421.64 L83 422.7 L83.39 422.35 L83.89 421.09 L84.3 419.6 L84.53 418.09 L84.66 416.35 L84.8 414.5 L84.97 412.52 L85.13 410.43 L85.3 408.4 L85.47 406.48 L85.63 404.61 L85.8 402.8 L85.95 400.78 L86.1 398.81 L86.3 397.7 L86.6 397.96 L86.95 399.08 L87.3 400.3 L87.65 401.66 L88 403.12 L88.3 403.8 L88.5 403.14 L88.65 401.7 L88.8 400.3 L88.94 399.29 L89.09 398.33 L89.3 397.2 L89.63 395.53 L90.02 393.69 L90.4 392.6 L90.74 392.67 L91.07 393.49 L91.4 394.7 L91.74 396.29 L92.08 398.27 L92.4 400.3 L92.69 402.33 L92.95 404.42 L93.2 406.4 L93.43 408.48 L93.65 410.44 L93.9 411.5 L94.2 411.03 L94.53 409.66 L94.9 408.4 L95.35 407.5 L95.85 406.73 L96.3 406.4 L96.66 406.72 L96.97 407.49 L97.3 408.4 L97.69 409.7 L98.11 411.15 L98.5 411.7 L98.83 410.56 L99.13 408.52 L99.5 406.9 L99.99 406.17 L100.55 405.87 L101.1 405.9 L101.63 406.56 L102.14 407.55 L102.6 407.9 L102.95 407.12 L103.25 405.7 L103.6 404.1 L104.06 402.26 L104.57 400.23 L105.1 398.7 L105.63 397.94 L106.17 397.68 L106.7 397.7 L107.19 398.21 L107.67 399.02 L108.2 399.3 L108.84 398.48 L109.54 397.14 L110.2 396.2 L110.79 396.02 L111.33 396.24 L111.8 396.7 L112.16 397.34 L112.45 398.21 L112.8 399.3 L113.28 400.67 L113.82 402.26 L114.3 403.8 L114.65 405.27 L114.95 406.7 L115.3 407.9 L115.75 409.03 L116.26 409.94 L116.8 410 L117.39 408.34 L118.02 405.84 L118.6 404.5 L119.11 405.39 L119.59 407.44 L120 409.5 L120.32 411.54 L120.58 413.57 L120.9 414.5 L121.35 413.56 L121.85 411.5 L122.3 409.5 L122.62 407.63 L122.89 405.81 L123.2 405 L123.6 405.9 L124.04 407.79 L124.5 409.5 L124.96 410.9 L125.43 412.11 L125.9 412.3 L126.37 410.53 L126.84 407.73 L127.3 405.9 L127.7 406.14 L128.1 407.35 L128.6 408.2 L129.29 408.06 L130.1 407.56 L130.9 407.3 L131.7 407.67 L132.51 408.28 L133.2 408.6 L133.69 408.23 L134.06 407.57 L134.5 407.3 L135.09 407.96 L135.75 409 L136.4 409.5 L137.03 408.78 L137.64 407.51 L138.2 406.8 L138.65 407.2 L139.04 408.15 L139.5 409.1 L140.11 410.16 L140.79 411.21 L141.4 411.4 L141.87 409.76 L142.28 407.24 L142.7 405.9 L143.14 407.04 L143.6 409.35 L144.1 410.9 L144.69 410.8 L145.31 409.95 L145.9 409.1 L146.37 408.39 L146.79 407.69 L147.3 407.3 L148.02 407.41 L148.82 407.85 L149.5 408.4 L149.94 409.21 L150.24 410.14 L150.55 410.59 L150.9 410.18 L151.25 409.29 L151.6 408.4 L151.95 407.51 L152.3 406.63 L152.65 406.23 L153 406.63 L153.35 407.52 L153.7 408.4 L154.05 409.28 L154.4 410.15 L154.75 410.55 L155.1 410.15 L155.45 409.27 L155.8 408.4 L156.15 407.53 L156.5 406.67 L156.85 406.27 L157.2 406.67 L157.55 407.54 L157.9 408.4 L158.25 409.26 L158.6 410.12 L158.95 410.51 L159.3 410.11 L159.65 409.26 L160 408.4 L160.35 407.55 L160.7 406.7 L161.05 406.32 L161.4 406.7 L161.75 407.55 L162.1 408.4 L162.45 409.24 L162.8 410.08 L163.15 410.46 L163.5 410.08 L163.85 409.24 L164.2 408.4 L164.55 407.57 L164.9 406.73 L165.25 406.36 L165.6 406.74 L165.95 407.57 L166.3 408.4 L166.65 409.23 L167 410.05 L167.35 410.42 L167.7 410.05 L168.05 409.22 L168.4 408.4 L168.75 407.58 L169.1 406.77 L169.45 406.4 L169.8 406.77 L170.15 407.59 L170.5 408.4 L170.85 409.21 L171.2 410.01 L171.55 410.38 L171.9 410.01 L172.25 409.2 L172.6 408.4 L172.95 407.6 L173.3 406.8 L173.65 406.44 L174 406.8 L174.35 407.6 L174.7 408.4 L175.05 409.19 L175.4 409.98 L175.75 410.34 L176.1 409.98 L176.45 409.19 L176.8 408.4 L177.15 407.62 L177.5 406.84 L177.85 406.48 L178.2 406.84 L178.55 407.62 L178.9 408.4 L179.25 409.17 L179.6 409.95 L179.95 410.3 L180.3 409.94 L180.65 409.17 L181 408.4 L181.35 407.63 L181.7 406.87 L182.05 406.53 L182.4 406.87 L182.75 407.64 L183.1 408.4 L183.45 409.16 L183.8 409.91 L184.15 410.25 L184.5 409.91 L184.85 409.15 L185.2 408.4 L185.55 407.65 L185.9 406.91 L186.25 406.57 L186.6 406.91 L186.95 407.65 L187.3 408.4 L187.65 409.14 L188 409.88 L188.35 410.21 L188.7 409.88 L189.05 409.14 L189.4 408.4 L189.75 407.67 L190.1 406.94 L190.45 406.61 L190.8 406.94 L191.15 407.67 L191.5 408.4 L191.85 409.12 L192.2 409.84 L192.55 410.17 L192.9 409.84 L193.25 409.12 L193.6 408.4 L193.95 407.69 L194.3 406.97 L194.65 406.65 L195 406.98 L195.35 407.69 L195.7 408.4 L196.05 409.11 L196.4 409.81 L196.75 410.13 L197.1 409.81 L197.45 409.1 L197.8 408.4 L198.15 407.7 L198.5 407.01 L198.85 406.69 L199.2 407.01 L199.55 407.71 L199.9 408.4 L200.25 409.09 L200.6 409.77 L200.95 410.09 L201.3 409.77 L201.65 409.09 L202 408.4 L202.35 407.72 L202.7 407.04 L203.05 406.74 L203.4 407.04 L203.75 407.72 L204.1 408.4 L204.45 409.07 L204.8 409.74 L205.15 410.04 L205.5 409.74 L205.85 409.07 L206.2 408.4 L206.55 407.74 L206.9 407.08 L207.25 406.78 L207.6 407.08 L207.95 407.74 L208.3 408.4 L208.65 409.05 L209 409.71 L209.35 410 L209.7 409.7 L210.05 409.05 L210.4 408.4 L210.75 407.75 L211.1 407.1 L211.45 406.8 L211.8 407.1 L212.15 407.75 L212.5 408.4 L212.85 409.05 L213.2 409.7 L213.55 410 L213.9 409.7 L214.25 409.05 L214.6 408.4 L214.95 407.75 L215.3 407.1 L215.65 406.8 L216 407.1 L216.35 407.75 L216.7 408.4 L217.05 409.05 L217.4 409.7 L217.75 410 L218.1 409.7 L218.45 409.05 L218.8 408.4 L219.15 407.75 L219.5 407.1 L219.85 406.8 L220.2 407.1 L220.55 407.75 L220.9 408.4 L221.25 409.05 L221.6 409.7 L221.95 410 L222.3 409.7 L222.65 409.05 L223 408.4 L223.35 407.75 L223.7 407.1 L224.05 406.8 L224.4 407.1 L224.75 407.75 L225.1 408.4 L225.45 409.05 L225.8 409.7 L226.15 410 L226.5 409.7 L226.85 409.05 L227.2 408.4 L227.55 407.75 L227.9 407.1 L228.25 406.8 L228.6 407.1 L228.95 407.75 L229.3 408.4 L229.65 409.05 L230 409.7 L230.35 410 L230.7 409.7 L231.05 409.05 L231.4 408.4 L231.75 407.75 L232.1 407.1 L232.45 406.8 L232.8 407.1 L233.15 407.75 L233.5 408.4 L233.85 409.05 L234.2 409.7 L234.55 410 L234.9 409.7 L235.25 409.05 L235.6 408.4 L235.95 407.75 L236.3 407.1 L236.65 406.8 L237 407.1 L237.35 407.75 L237.7 408.4 L238.05 409.05 L238.4 409.7 L238.75 410 L239.1 409.7 L239.45 409.05 L239.8 408.4 L240.15 407.75 L240.5 407.1 L240.85 406.8 L241.2 407.1 L241.55 407.75 L241.9 408.4 L242.25 409.05 L242.6 409.7 L242.95 410 L243.3 409.7 L243.65 409.05 L244 408.4 L244.35 407.75 L244.7 407.1 L245.05 406.8 L245.4 407.1 L245.75 407.75 L246.1 408.4 L246.45 409.05 L246.8 409.7 L247.15 410 L247.5 409.7 L247.85 409.05 L248.2 408.4 L248.55 407.75 L248.9 407.1 L249.25 406.8 L249.6 407.1 L249.95 407.75 L250.3 408.4 L250.65 409.05 L251 409.7 L251.35 410 L251.7 409.7 L252.05 409.05 L252.4 408.4 L252.77 407.74 L253.14 407.08 L253.45 406.8 L253.69 407.21 L253.88 408.01 L254 408.6" fill="none" stroke="#ff4040" stroke-width="1.0" stroke-dasharray="3 2.4"/>
<path d="M49.5 291.2 L50.55 291 L52.04 290.73 L53.4 290.6 L54.44 290.74 L55.35 291.01 L56.2 291.2 L56.93 291.18 L57.6 291.07 L58.4 291 L59.47 291.06 L60.67 291.16 L61.8 291.2 L62.78 291.09 L63.69 290.93 L64.6 290.9 L65.51 291.09 L66.42 291.4 L67.4 291.8 L68.47 292.22 L69.61 292.72 L70.8 293.4 L72.14 294.5 L73.54 295.78 L74.7 296.6 L75.41 296.62 L75.88 296.19 L76.4 295.7 L77.1 295.21 L77.85 294.66 L78.6 294.3 L79.29 294.16 L79.98 294.21 L80.8 294.6 L81.84 295.5 L83.02 296.73 L84.2 297.9 L85.36 298.83 L86.51 299.7 L87.6 300.7 L88.6 301.86 L89.53 303.13 L90.4 304.6 L91.2 306.34 L91.93 308.27 L92.6 310.2 L93.23 312.19 L93.8 314.18 L94.3 315.8 L94.69 316.9 L95.01 317.63 L95.4 318.1 L95.92 318.46 L96.5 318.56 L97.1 318.1 L97.66 316.69 L98.22 314.72 L98.9 313 L99.76 311.96 L100.73 311.17 L101.7 310.2 L102.67 308.73 L103.65 307.09 L104.5 305.8 L105.17 305.1 L105.72 304.75 L106.2 304.6 L106.57 304.77 L106.87 305.14 L107.3 305.2 L108 304.55 L108.84 303.59 L109.6 303 L110.14 302.96 L110.6 303.28 L111.2 304.1 L112.02 305.55 L112.98 307.5 L114 309.7 L115.13 312.36 L116.33 315.27 L117.4 317.5 L118.22 318.66 L118.9 319.15 L119.6 319.2 L120.3 318.82 L121.01 318.01 L121.9 317 L123.12 315.55 L124.52 313.9 L125.8 313 L126.84 313.45 L127.75 314.65 L128.6 315.8 L129.37 316.57 L130.08 317.28 L130.8 318.1 L131.56 319.07 L132.34 320.15 L133.1 321.4 L133.86 322.86 L134.61 324.49 L135.3 326.2 L135.9 328.05 L136.45 329.99 L137 331.8 L137.55 333.43 L138.1 334.93 L138.7 336.3 L139.41 337.44 L140.19 338.46 L140.9 339.6 L141.5 341.05 L142.05 342.64 L142.6 344.1 L143.14 345.22 L143.68 346.22 L144.3 347.5 L145.07 349.34 L145.91 351.46 L146.7 353.4 L147.4 355.09 L148.04 356.6 L148.6 357.7 L149.01 357.99 L149.34 357.87 L149.8 358.3 L150.53 359.72 L151.39 361.69 L152.2 363.8 L152.87 365.95 L153.49 368.25 L154.1 370.6 L154.71 373.11 L155.3 375.67 L155.9 377.9 L156.52 379.58 L157.14 380.93 L157.7 382.2 L158.14 383.38 L158.51 384.49 L158.9 385.8 L159.33 387.61 L159.77 389.63 L160.2 391.3 L160.59 392.4 L160.96 393.15 L161.4 393.6 L161.96 393.6 L162.58 393.31 L163.2 393.2 L163.81 393.44 L164.43 393.86 L165 394.5 L165.5 395.34 L165.96 396.39 L166.4 397.7 L166.84 399.37 L167.26 401.29 L167.7 403.2 L168.14 405.1 L168.6 407 L169.1 408.6 L169.69 409.7 L170.31 410.5 L170.9 411.4 L171.38 412.51 L171.82 413.7 L172.3 415 L172.89 416.7 L173.51 418.5 L174.1 419.5 L174.6 419.12 L175.06 417.94 L175.5 416.8 L175.94 415.88 L176.36 415.01 L176.8 414.5 L177.26 414.68 L177.74 415.22 L178.2 415.5 L178.62 415.28 L179.03 414.79 L179.5 414.1 L180.09 413.1 L180.75 411.9 L181.4 410.9 L182.01 410.35 L182.6 410 L183.2 409.5 L183.78 408.7 L184.36 407.75 L185 406.8 L185.75 405.77 L186.55 404.73 L187.3 404.1 L187.94 404.1 L188.52 404.5 L189.1 405 L189.7 405.7 L190.3 406.5 L190.9 406.8 L191.51 406.1 L192.13 404.9 L192.7 404.1 L193.2 404.08 L193.65 404.46 L194.1 405 L194.57 405.8 L195.04 406.76 L195.5 407.3 L195.92 407.09 L196.33 406.47 L196.8 405.9 L197.36 405.51 L197.97 405.18 L198.6 405 L199.23 405 L199.87 405.16 L200.5 405.5 L201.11 406.09 L201.7 406.86 L202.3 407.7 L202.88 408.65 L203.46 409.67 L204.1 410.5 L204.87 411.02 L205.71 411.36 L206.5 411.6 L207.2 411.75 L207.86 411.81 L208.5 411.9 L209.11 412.11 L209.71 412.34 L210.4 412.4 L211.24 412.15 L212.17 411.73 L213.1 411.3 L214.04 410.85 L214.98 410.4 L215.8 410.2 L216.42 410.31 L216.92 410.67 L217.4 411.3 L217.88 412.58 L218.34 414.14 L218.8 414.9 L219.26 414.12 L219.72 412.54 L220.2 411.3 L220.66 410.83 L221.13 410.7 L221.8 410.7 L222.77 410.81 L223.94 411.06 L225.1 411.3 L226.22 411.53 L227.34 411.76 L228.4 411.8 L229.34 411.49 L230.22 411 L231.1 410.7 L232.02 410.84 L232.94 411.16 L233.8 411.3 L234.59 410.98 L235.33 410.47 L236 410.2 L236.57 410.47 L237.08 410.98 L237.6 411.3 L238.14 411.2 L238.7 410.92 L239.3 410.7 L239.97 410.57 L240.68 410.51 L241.4 410.7 L242.13 411.28 L242.86 412.1 L243.6 412.9 L244.31 413.65 L245.03 414.37 L245.8 414.9 L246.66 415.13 L247.57 415.16 L248.5 415.1 L249.43 414.95 L250.37 414.71 L251.3 414.5 L252.31 414.37 L253.3 414.27 L254 414.2" fill="none" stroke="#363636" stroke-width="1.1"/>
<line x1="369.52" y1="433.8" x2="517.5" y2="433.8" stroke="#4b76c9" stroke-width="1.1" opacity="0.75"/>
<path d="M369.88 424.5 L371.09 424.23 L372.3 423.96 L373.51 423.69 L374.71 423.4 L375.92 423.11 L377.13 422.81 L378.34 422.5 L379.55 422.18 L380.75 421.85 L381.96 421.52 L383.17 421.17 L384.38 420.82 L385.59 420.46 L386.79 420.09 L388 419.71 L389.21 419.32 L390.42 418.91 L391.63 418.5 L392.83 418.08 L394.04 417.64 L395.25 417.19 L396.46 416.74 L397.67 416.27 L398.87 415.78 L400.08 415.29 L401.29 414.78 L402.5 414.25 L403.71 413.72 L404.91 413.16 L406.12 412.6 L407.33 412.02 L408.54 411.42 L409.75 410.81 L410.95 410.18 L412.16 409.53 L413.37 408.87 L414.58 408.19 L415.79 407.49 L416.99 406.77 L418.2 406.04 L419.41 405.28 L420.62 404.51 L421.83 403.71 L423.03 402.89 L424.24 402.05 L425.45 401.19 L426.66 400.3 L427.87 399.4 L429.07 398.46 L430.28 397.51 L431.49 396.52 L432.7 395.51 L433.91 394.48 L435.11 393.41 L436.32 392.32 L437.53 391.2 L438.74 390.05 L439.95 388.86 L441.15 387.65 L442.36 386.41 L443.57 385.13 L444.78 383.81 L445.99 382.46 L447.19 381.08 L448.4 379.66 L449.61 378.2 L450.82 376.7 L452.03 375.17 L453.23 373.59 L454.44 371.97 L455.65 370.3 L456.86 368.59 L458.07 366.84 L459.27 365.04 L460.48 363.19 L461.69 361.29 L462.9 359.35 L464.11 357.35 L465.31 355.29 L466.52 353.18 L467.73 351.02 L468.94 348.8 L470.15 346.52 L471.35 344.17 L472.56 341.77 L473.77 339.3 L474.98 336.77 L476.19 334.17 L477.39 331.49 L478.6 328.75 L479.81 325.94 L481.02 323.05 L482.23 320.08 L483.43 317.03 L484.64 313.9 L485.85 310.69 L487.06 307.4 L488.27 304.01 L489.47 300.54 L490.68 296.97 L491.89 293.31 L493.1 289.55" fill="none" stroke="#4b76c9" stroke-width="1.1"/>
<rect x="367.82" y="426.71" width="4.6" height="4.6" fill="#000"/>
<rect x="401.65" y="424.07" width="4.6" height="4.6" fill="#000"/>
<rect x="441.87" y="390.58" width="4.6" height="4.6" fill="#000"/>
<rect x="462.53" y="357.25" width="4.6" height="4.6" fill="#000"/>
<rect x="468.93" y="311.38" width="4.6" height="4.6" fill="#000"/>
<rect x="489.59" y="296.53" width="4.6" height="4.6" fill="#000"/>
<circle cx="381.84" cy="427.37" r="2.35" fill="#ee1111"/>
<circle cx="426.78" cy="414.17" r="2.35" fill="#ee1111"/>
<circle cx="454.44" cy="363.51" r="2.35" fill="#ee1111"/>
<circle cx="480.66" cy="314.34" r="2.35" fill="#ee1111"/>
<circle cx="517.02" cy="300.98" r="2.35" fill="#ee1111"/>
<rect x="351.3" y="266.6" width="4.6" height="4.6" fill="#000"/>
<circle cx="353.6" cy="280.4" r="2.35" fill="#ee1111"/>
</svg>
</body></html>
